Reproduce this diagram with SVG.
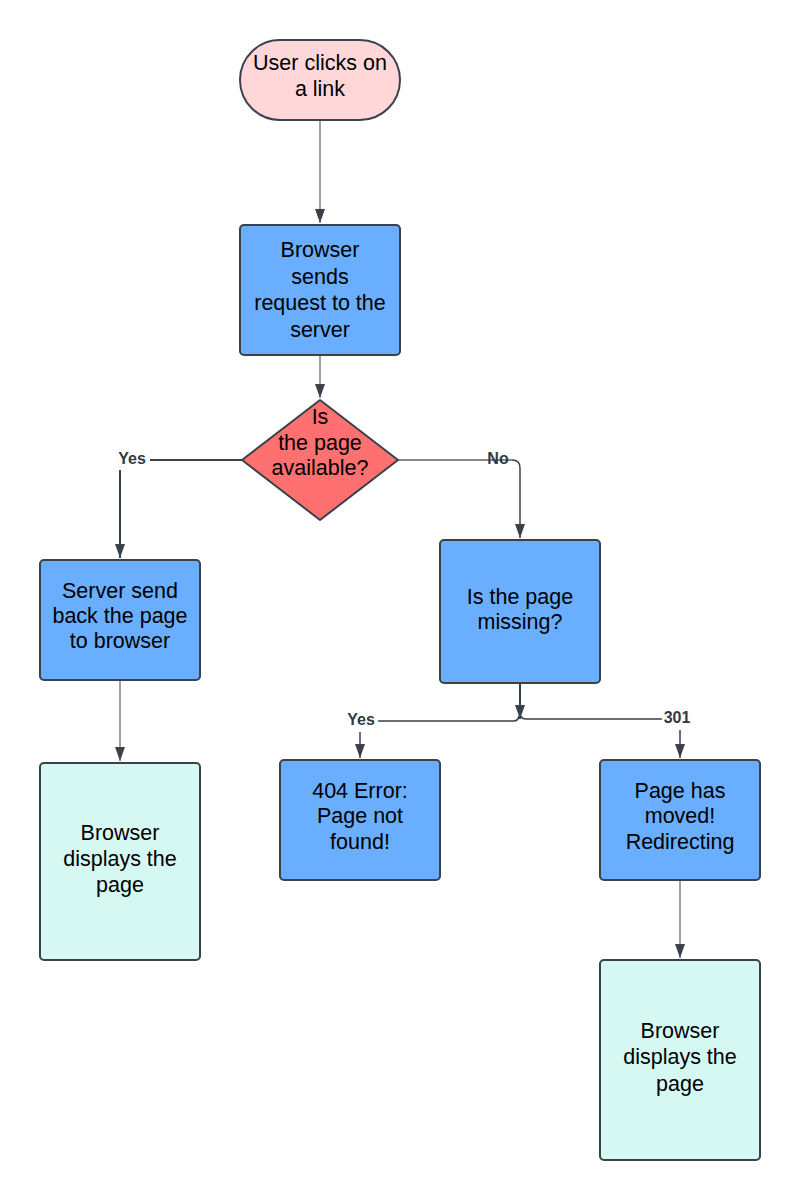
<svg xmlns="http://www.w3.org/2000/svg" width="800" height="1200" viewBox="0 0 800 1200">
<style>
.node{stroke:#3a414a;stroke-width:2}
.pink{fill:#ffd7d9}
.blue{fill:#6aaeff}
.red{fill:#ff7070}
.mint{fill:#d6f8f3}
.t{font-family:"Liberation Sans",Arial,sans-serif;font-size:21.5px;fill:#000;text-anchor:middle}
.lbl{font-family:"Liberation Sans",Arial,sans-serif;font-size:16px;font-weight:bold;fill:#333a42;text-anchor:middle}
.c{fill:none;stroke:#3a414a;stroke-width:1.5}
</style>
<defs>
<marker id="ah" markerWidth="14" markerHeight="10" refX="14" refY="5" orient="auto" markerUnits="userSpaceOnUse" viewBox="0 0 14 10">
<path d="M0,0 L14,5 L0,10 Z" fill="#3a414a"/>
</marker>
</defs>
<rect width="800" height="1200" fill="#fff"/>
<g id="connectors">
<path class="c" style="stroke-width:1" d="M320,120 V223" marker-end="url(#ah)"/>
<path class="c" style="stroke-width:1" d="M320,355 V398" marker-end="url(#ah)"/>
<path class="c" style="stroke-width:2" d="M242,460 H150"/>
<path class="c" style="stroke-width:2" d="M120,470 V558" marker-end="url(#ah)"/>
<path class="c" style="stroke:#5a6068" d="M398,460 H512"/>
<path class="c" d="M512,460 Q520,460 520,468 V538" marker-end="url(#ah)"/>
<path class="c" style="stroke-width:2" d="M520,683 V719" marker-end="url(#ah)"/>
<path class="c" d="M378,721 H514 Q518,721 519,716 M521,716 Q522,719 526,719 H662"/>
<path class="c" d="M360,732 V758" marker-end="url(#ah)"/>
<path class="c" d="M680,730 V758" marker-end="url(#ah)"/>
<path class="c" style="stroke-width:1" d="M120,680 V761" marker-end="url(#ah)"/>
<path class="c" style="stroke-width:1" d="M680,880 V958" marker-end="url(#ah)"/>
<text class="lbl" x="132" y="464">Yes</text>
<text class="lbl" x="498" y="464">No</text>
<text class="lbl" x="361" y="725">Yes</text>
<text class="lbl" x="677" y="723">301</text>
</g>
<g id="start">
<rect class="node pink" x="240" y="40" width="160" height="80" rx="40"/>
<text class="t" x="320" y="70">User clicks on</text>
<text class="t" x="320" y="96">a link</text>
</g>
<g id="request">
<rect class="node blue" x="240" y="225" width="160" height="130" rx="4"/>
<text class="t" x="320" y="257">Browser</text>
<text class="t" x="320" y="284">sends</text>
<text class="t" x="320" y="310">request to the</text>
<text class="t" x="320" y="337">server</text>
</g>
<g id="available">
<path class="node red" d="M320,400 L398,460 L320,520 L242,460 Z" stroke-linejoin="round"/>
<text class="t" x="320" y="424">Is</text>
<text class="t" x="320" y="450">the page</text>
<text class="t" x="320" y="475">available?</text>
</g>
<g id="serverSend">
<rect class="node blue" x="40" y="560" width="160" height="120" rx="4"/>
<text class="t" x="120" y="598">Server send</text>
<text class="t" x="120" y="623">back the page</text>
<text class="t" x="120" y="648">to browser</text>
</g>
<g id="display1">
<rect class="node mint" x="40" y="763" width="160" height="197" rx="4"/>
<text class="t" x="120" y="840">Browser</text>
<text class="t" x="120" y="866">displays the</text>
<text class="t" x="120" y="892">page</text>
</g>
<g id="missing">
<rect class="node blue" x="440" y="540" width="160" height="143" rx="4"/>
<text class="t" x="520" y="604">Is the page</text>
<text class="t" x="520" y="629">missing?</text>
</g>
<g id="notFound">
<rect class="node blue" x="280" y="760" width="160" height="120" rx="4"/>
<text class="t" x="360" y="798">404 Error:</text>
<text class="t" x="360" y="823">Page not</text>
<text class="t" x="360" y="849">found!</text>
</g>
<g id="moved">
<rect class="node blue" x="600" y="760" width="160" height="120" rx="4"/>
<text class="t" x="680" y="798">Page has</text>
<text class="t" x="680" y="823">moved!</text>
<text class="t" x="680" y="849">Redirecting</text>
</g>
<g id="display2">
<rect class="node mint" x="600" y="960" width="160" height="200" rx="4"/>
<text class="t" x="680" y="1038">Browser</text>
<text class="t" x="680" y="1064">displays the</text>
<text class="t" x="680" y="1091">page</text>
</g>
</svg>
